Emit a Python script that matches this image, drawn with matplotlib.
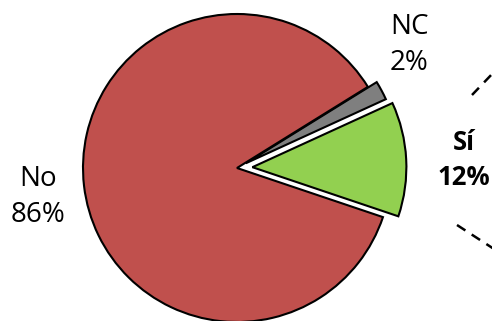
import matplotlib
matplotlib.use("Agg")
import matplotlib.pyplot as plt
from matplotlib.lines import Line2D

# data
categories = ["Sí", "NC", "No"]
percents = [12, 2, 86]
colors = ["#92D050", "#7F7F7F", "#C0504D"]
explode = [0.1, 0.065, 0.0]

plt.rcParams["font.family"] = ["Open Sans", "DejaVu Sans"]

fig = plt.figure(figsize=(4.92, 3.21), dpi=100)
ax = fig.add_axes([0, 0, 1, 1])

wedges, _ = ax.pie(percents, colors=colors, explode=explode, startangle=-18.6,
                   counterclock=True, radius=1.0,
                   wedgeprops=dict(edgecolor="black", linewidth=1.5))

# pixel scale: centre at (237, 168) from top-left, radius 154 px
ax.set_xlim(-237 / 154, (492 - 237) / 154)
ax.set_ylim(-(321 - 168) / 154, 168 / 154)
ax.set_aspect("auto")
ax.axis("off")

# label positions (data units)
label_pos = {"Sí": (1.47, 0.05), "NC": (1.117, 0.80), "No": (-1.29, -0.19)}
for cat, pct in zip(categories, percents):
    x, y = label_pos[cat]
    bold = cat == "Sí"
    ax.text(x, y, f"{cat}\n{pct}%", ha="center", va="center",
            fontsize=18.5 if bold else 20, linespacing=1.4,
            fontweight="bold" if bold else "normal")

# connector lines towards the (cropped) secondary chart
for (x0, y0), (x1, y1) in [((472, 95), (494, 72)), ((457, 225), (494, 249))]:
    fig.add_artist(Line2D([x0 / 492, x1 / 492], [1 - y0 / 321, 1 - y1 / 321],
                          color="black", linewidth=1.8, linestyle=(0, (4, 3))))

fig.savefig("out.png", dpi=100)
